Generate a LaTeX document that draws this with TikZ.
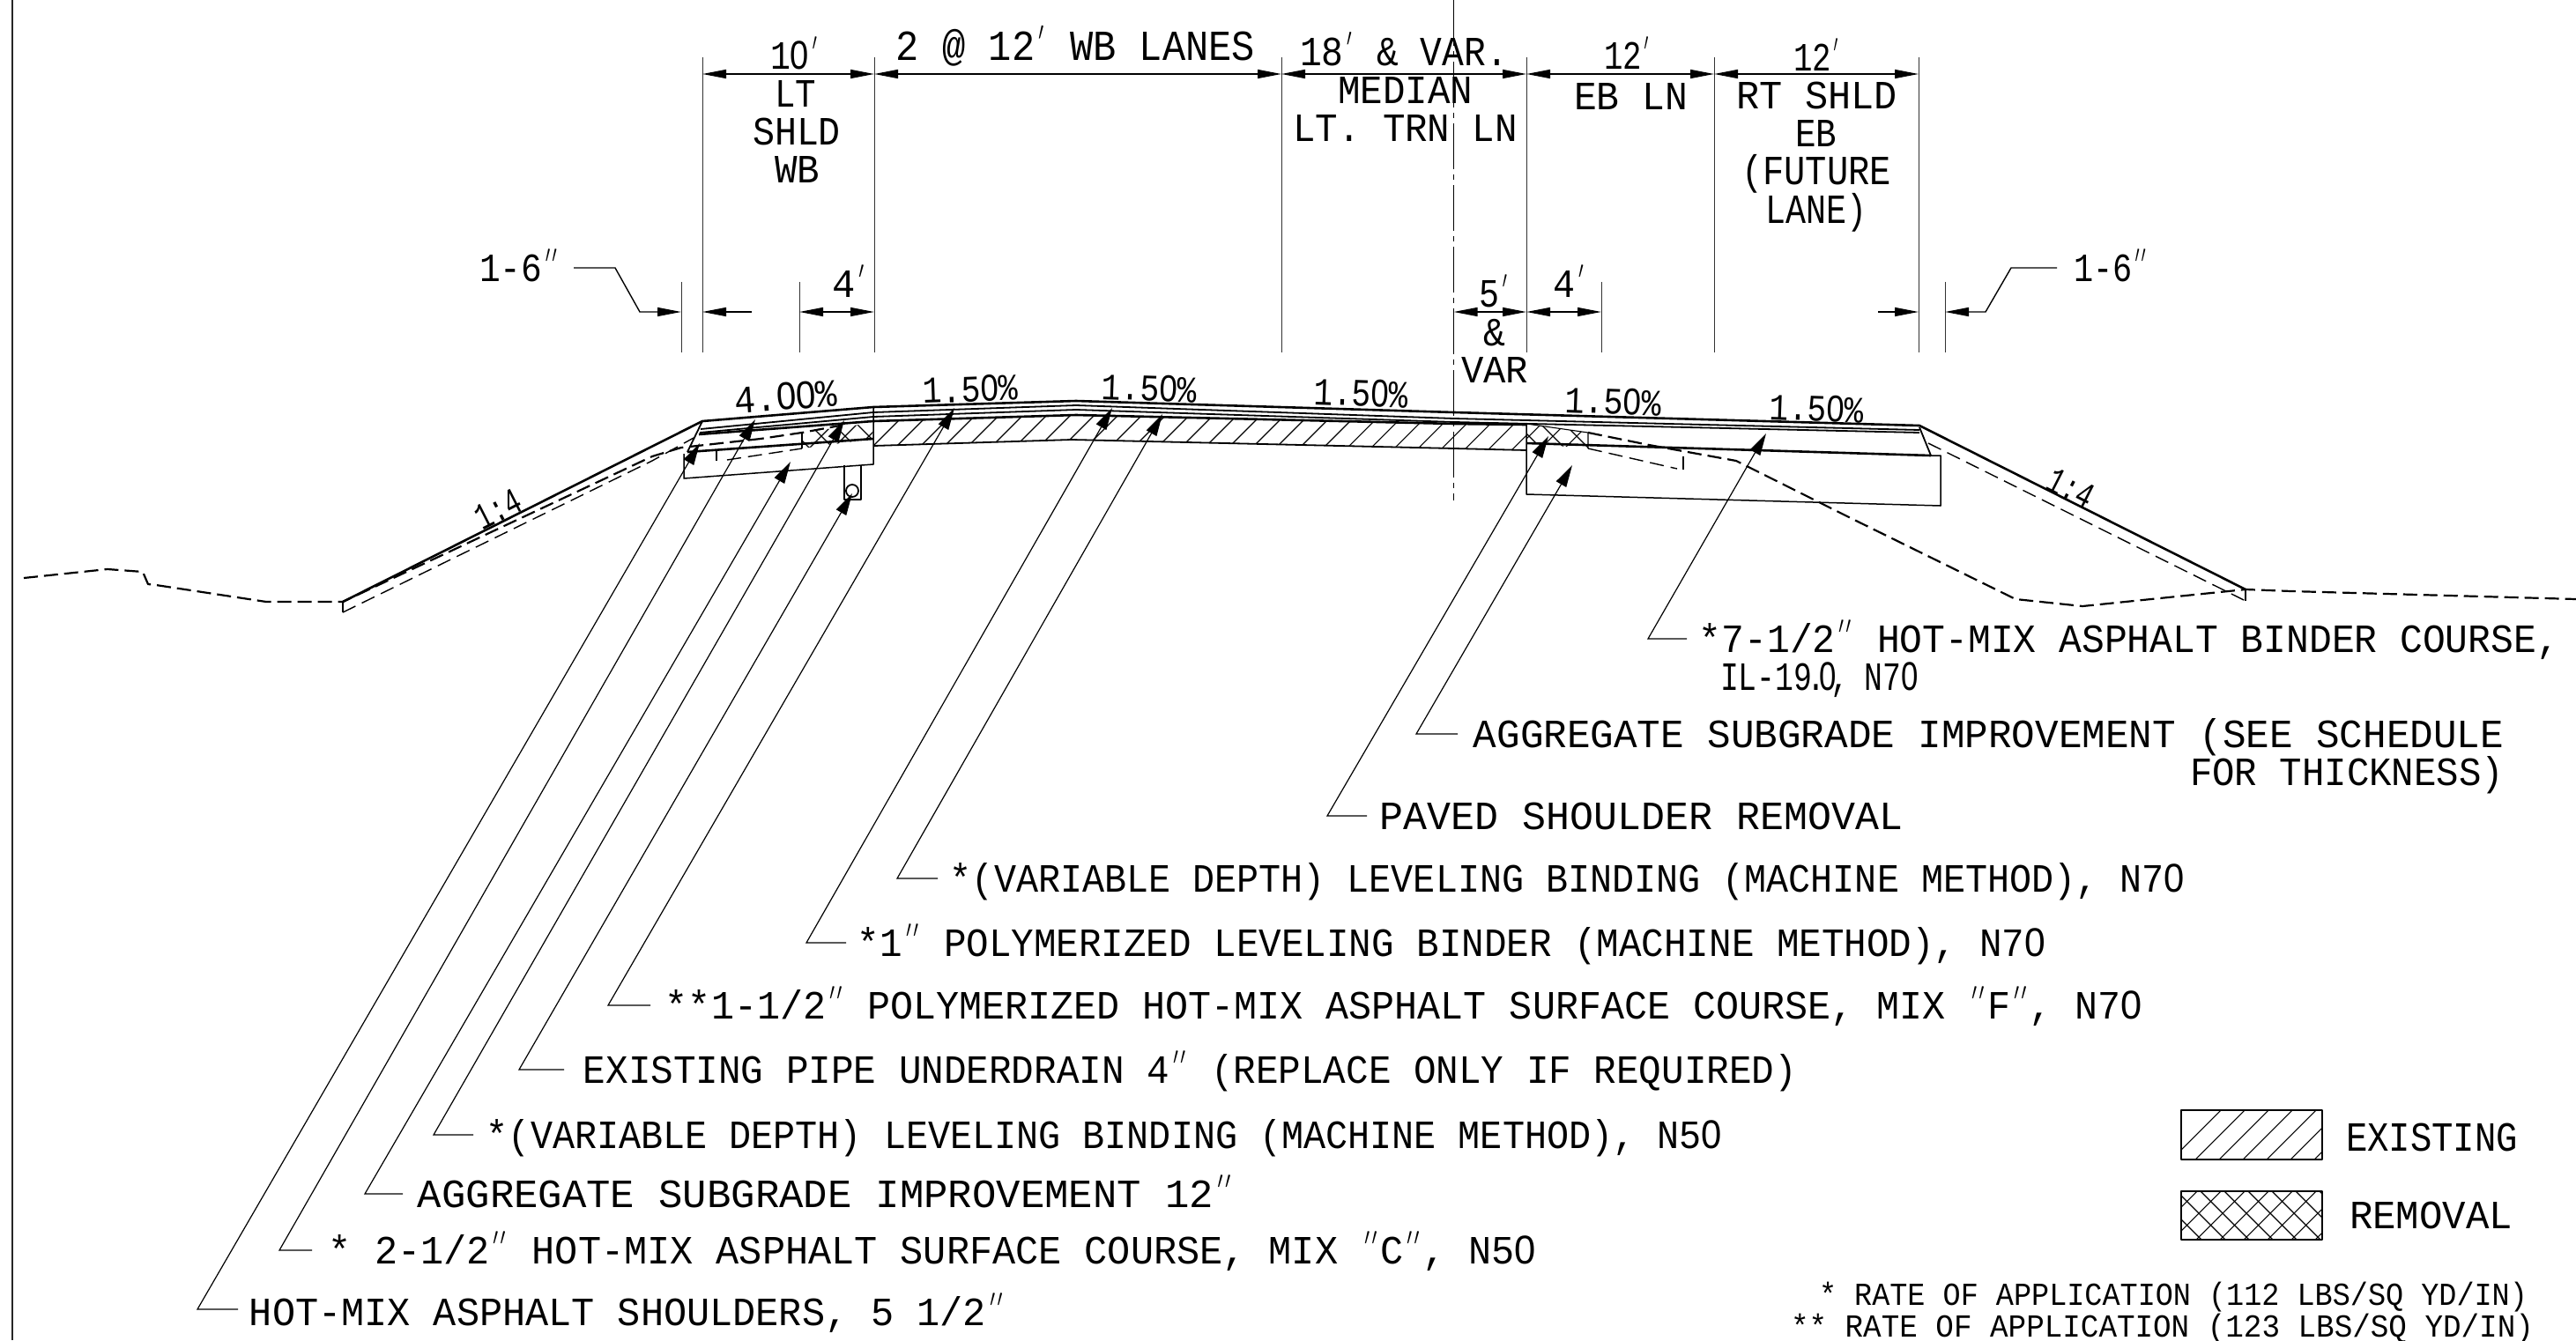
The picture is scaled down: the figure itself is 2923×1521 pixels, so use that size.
\documentclass[tikz,border=0pt]{standalone}
\usepackage{graphicx}
\usepackage{fontspec}
\setmainfont{Liberation Mono}
\newfontfamily\zfont{Liberation Sans}
\newfontfamily\pfont{Lato}[UprightFont=* Light]
\newcommand{\Z}{{\zfont 0}}
\newcommand{\Pa}{{\pfont ′}}
\newcommand{\Pb}{{\pfont ″}}
\usetikzlibrary{arrows.meta}
\newcounter{cadn}
\newcommand{\cadbox}[1]{\rule{0pt}{\fontcharht\font`H}\smash{#1}}
\newcommand{\cad}[6][0]{%
  \stepcounter{cadn}%
  \pgfmathsetlengthmacro\cadw{(#3-#2)*0.5pt}%
  \pgfmathsetlengthmacro\cadh{(#5-#4)*0.5pt}%
  \node[txt,rotate=#1] (cad\thecadn) at ({(#2+#3)/2},{(#4+#5)/2}) {\resizebox{\cadw}{\cadh}{\cadbox{#6}}};}
\newcommand{\ldr}[4]{%
  \coordinate (h#1) at (#2);\coordinate (e#1) at (#3);\coordinate (t#1) at (#4);
  \draw[leader] (h#1) -- (e#1) -- (t#1);}
\tikzset{
  txt/.style={inner sep=0pt,outer sep=0pt,text=black},
  heavy/.style={line width=1.3pt,line join=round},
  med/.style={line width=0.9pt,line join=round},
  thin1/.style={line width=0.55pt,line join=round},
  ground/.style={line width=1.1pt,dash pattern=on 8pt off 3.5pt,line join=round},
  thindash/.style={line width=0.7pt,dash pattern=on 8pt off 4pt},
  ext/.style={line width=0.5pt,draw=black!80},
  leader/.style={line width=0.6pt,-{Triangle[length=12.5pt,width=6.5pt]}},
  dimarrow/.style={line width=0.7pt,{Triangle[length=13.5pt,width=5pt]}-{Triangle[length=13.5pt,width=5pt]}},
  dimright/.style={line width=0.7pt,-{Triangle[length=13.5pt,width=5pt]}},
  hatchline/.style={line width=0.55pt}
}
\begin{document}
\begin{tikzpicture}[x=0.5pt,y=-0.5pt]
\useasboundingbox (0,0) rectangle (2923,1521);
% frame
\draw[line width=1.2pt,black!85] (14,0) -- (14,1521);
% centre line
\draw[line width=0.55pt,dash pattern=on 26pt off 3pt on 3pt off 3pt] (1649.5,0) -- (1649.5,568);
% extension lines
\foreach \x/\a/\b in {797/65/400,992/65/400,1454/65/400,1732/65/400,1945/65/400,2177/65/400,773/320/400,907/320/400,1817/320/400,2207/320/400}
  \draw[ext] (\x,\a) -- (\x,\b);
% dimension arrows
\draw[dimarrow] (797,84) -- (992,84);
\draw[dimarrow] (992,84) -- (1454,84);
\draw[dimarrow] (1454,84) -- (1732,84);
\draw[dimarrow] (1732,84) -- (1945,84);
\draw[dimarrow] (1945,84) -- (2177,84);
\draw[dimarrow] (907,354) -- (992,354);
\draw[dimarrow] (1649.5,354) -- (1732,354);
\draw[dimarrow] (1732,354) -- (1817,354);
\draw[dimright] (651,304) -- (698,304) -- (726,354) -- (773,354);
\draw[dimright] (853,354) -- (797,354);
\draw[dimright] (2131,354) -- (2177,354);
\draw[dimright] (2334,304) -- (2282,304) -- (2253,354) -- (2207,354);
% existing hatch
\begin{scope}
\clip (991,478) -- (1221,471) -- (1650,481) -- (1732,482) -- (1732,511) -- (1650,509) -- (1216,499) -- (991,506) -- cycle;
\foreach \k in {0,...,28} \draw[hatchline] ({977+27*\k},520) -- ({977+27*\k+60},460);
\end{scope}
\draw[med] (991,506) -- (1216,499) -- (1650,509) -- (1732,511);
% removal hatch left
\begin{scope}
\clip (910,491) -- (990,480) -- (991,498) -- (910,509) -- cycle;
\foreach \k in {0,...,6} {\draw[hatchline] ({880+27*\k},520) -- ({880+27*\k+50},470);
  \draw[hatchline] ({880+27*\k},470) -- ({880+27*\k+50},520);}
\end{scope}
% removal hatch right
\begin{scope}
\clip (1732,481) -- (1802,491) -- (1802,509) -- (1732,503) -- cycle;
\foreach \k in {0,...,6} {\draw[hatchline] ({1710+27*\k},520) -- ({1710+27*\k+50},470);
  \draw[hatchline] ({1710+27*\k},470) -- ({1710+27*\k+50},520);}
\end{scope}
\draw[thin1] (910,491) -- (910,509);
\draw[thin1] (1732,481) -- (1802,491) -- (1802,509);
% pavement surface
\draw[heavy] (389,683) -- (797,478) -- (991,462) -- (1221,455) -- (1650,468) -- (2178,483) -- (2548,669);
\draw[med] (795,487) -- (991,468) -- (1221,460) -- (1650,475) -- (2178,488);
\draw[med] (794,491) -- (991,473) -- (1221,465) -- (1650,479) -- (2178,491);
\draw[heavy] (793,493) -- (991,478) -- (1221,471) -- (1650,481) -- (1732,482);
\draw[heavy] (780,513) -- (991,498);
\draw[heavy] (1732,503) -- (2191,517);
\draw[med] (797,478) -- (780,513);
\draw[med] (2178,485) -- (2191,517);
% subgrade boxes
\draw[thin1,line width=0.75pt] (776,515) -- (776,543) -- (991,527) -- (991,462);
\draw[thin1,line width=0.75pt] (1732,481) -- (1732,561) -- (2202,574) -- (2202,517) -- (2191,517);
% pipe
\draw[med] (958,528) -- (958,567) -- (977,567) -- (977,528);
\draw[med] (967,557) circle[radius=7];
% ground profile
\draw[ground] (27,656) -- (122,646) -- (162,649) -- (168,663) -- (177,664) -- (302,683) -- (389,683) -- (740,518) -- (773,508) -- (863,498) -- (910,491) -- (953,483);
\draw[ground] (1802,491) -- (1871,505) -- (1970,523) -- (1990,533) -- (2100,588) -- (2287,680) -- (2363,688) -- (2548,669) -- (2600,671) -- (2923,680);
% thin dashed subgrade lines
\draw[thin1] (389,683) -- (389,695);
\draw[thindash] (389,695) -- (740,523) -- (787,497);
\draw[thindash] (825,522) -- (910,509);
\draw[thin1] (813,510) -- (813,523);
\draw[thindash] (1802,509) -- (1903,532);
\draw[thin1] (1910,518) -- (1910,533);
\draw[thindash] (2188,503) -- (2548,682);
\draw[thin1] (2548,669) -- (2548,682);
% leaders
\ldr{a}{270,1486}{224,1486}{794,503}
\ldr{b}{354,1419}{317,1419}{857,476}
\ldr{c}{457,1355}{414,1355}{897,524}
\ldr{d}{537,1288}{492,1288}{958,477}
\ldr{e}{640,1214}{589,1214}{967,560}
\ldr{f}{738,1141}{690,1141}{1083,463}
\ldr{g}{960,1070}{915,1070}{1262,463}
\ldr{h}{1064,997}{1018,997}{1319,470}
\ldr{i}{1551,926}{1506,926}{1757,495}
\ldr{j}{1654,833}{1607,833}{1784,528}
\ldr{k}{1914,725}{1870,725}{2004,492}
% legend
\begin{scope}
\clip (2475,1260) rectangle (2635,1316);
\foreach \k in {0,...,8} \draw[hatchline] ({2460+27*\k},1320) -- ({2460+27*\k+70},1250);
\end{scope}
\begin{scope}
\clip (2475,1352) rectangle (2635,1407);
\foreach \k in {-1,...,8} {\draw[hatchline] ({2460+27*\k},1412) -- ({2460+27*\k+70},1342);
 \draw[hatchline] ({2460+27*\k},1342) -- ({2460+27*\k+70},1412);}
\end{scope}
\draw[med] (2475,1260) rectangle (2635,1316);
\draw[med] (2475,1352) rectangle (2635,1407);
% dimension text
\cad{874}{930}{48}{78}{1\Z\Pa}
\cad{879}{926}{91}{121}{LT}
\cad{854}{954}{134}{164}{SHLD}
\cad{879}{930}{177}{207}{WB}
\cad{1017}{1424}{36}{68}{2 @ 12\Pa{} WB LANES}
\cad{1475}{1711}{43}{74}{18\Pa{} \& VAR.}
\cad{1820}{1874}{48}{78}{12\Pa}
\cad{2035}{2089}{50}{80}{12\Pa}
\cad{1518}{1671}{87}{117}{MEDIAN}
\cad{1467}{1722}{130}{160}{LT. TRN LN}
\cad{1786}{1915}{94}{124}{EB LN}
\cad{1970}{2153}{93}{123}{RT SHLD}
\cad{2037}{2084}{136}{166}{EB}
\cad{1976}{2146}{178}{209}{(FUTURE}
\cad{2003}{2118}{222}{253}{LANE)}
\cad{1678}{1713}{318}{348}{5\Pa}
\cad{1683}{1708}{362}{392}{\&}
\cad{1658}{1734}{405}{434}{VAR}
\cad{944}{984}{307}{337}{4\Pa}
\cad{1762}{1800}{307}{337}{4\Pa}
\cad{544}{635}{289}{319}{1-6\Pb}
\cad{2353}{2438}{289}{319}{1-6\Pb}
% slopes
\cad[4]{833}{950}{436}{465}{4.\Z\Z\%}
\cad[2]{1047}{1155}{428}{456}{1.5\Z\%}
\cad[-2]{1250}{1358}{427}{455}{1.5\Z\%}
\cad[-2]{1491}{1598}{432}{461}{1.5\Z\%}
\cad[-2]{1776}{1885}{442}{470}{1.5\Z\%}
\cad[-2]{2008}{2115}{450}{478}{1.5\Z\%}
\cad[27]{538}{592}{564}{592}{1:4}
\cad[-27]{2323}{2377}{540}{568}{1:4}
% callouts
\cad{1928}{2904}{710}{740}{*7-1/2\Pb{} HOT-MIX ASPHALT BINDER COURSE,}
\cad{1952}{2177}{753}{783}{IL-19\kern-.18em.\kern-.18em\Z\kern-.18em,\kern-.1em{} N7\Z}
\cad{1672}{2841}{818}{848}{AGGREGATE SUBGRADE IMPROVEMENT (SEE SCHEDULE}
\cad{2485}{2841}{861}{891}{FOR THICKNESS)}
\cad{1566}{2159}{911}{941}{PAVED SHOULDER REMOVAL}
\cad{1078}{2479}{982}{1012}{*(VARIABLE DEPTH) LEVELING BINDING (MACHINE METHOD), N7\Z}
\cad{973}{2321}{1055}{1085}{*1\Pb{} POLYMERIZED LEVELING BINDER (MACHINE METHOD), N7\Z}
\cad{755}{2431}{1126}{1156}{**1-1/2\Pb{} POLYMERIZED HOT-MIX ASPHALT SURFACE COURSE, MIX \Pb{}F\Pb{}, N7\Z}
\cad{662}{2039}{1199}{1229}{EXISTING PIPE UNDERDRAIN 4\Pb{} (REPLACE ONLY IF REQUIRED)}
\cad{552}{1954}{1273}{1303}{*(VARIABLE DEPTH) LEVELING BINDING (MACHINE METHOD), N5\Z}
\cad{474}{1400}{1340}{1370}{AGGREGATE SUBGRADE IMPROVEMENT 12\Pb}
\cad{373}{1743}{1404}{1434}{* 2-1/2\Pb{} HOT-MIX ASPHALT SURFACE COURSE, MIX \Pb{}C\Pb{}, N5\Z}
\cad{283}{1141}{1474}{1504}{HOT-MIX ASPHALT SHOULDERS, 5 1/2\Pb}
% legend text
\cad{2662}{2857}{1275}{1306}{EXISTING}
\cad{2666}{2851}{1364}{1394}{REMOVAL}
\cad{2064}{2868}{1457}{1481}{* RATE OF APPLICATION (112 LBS/SQ YD/IN)}
\cad{2032}{2875}{1493}{1517}{** RATE OF APPLICATION (123 LBS/SQ YD/IN)}
\end{tikzpicture}
\end{document}
